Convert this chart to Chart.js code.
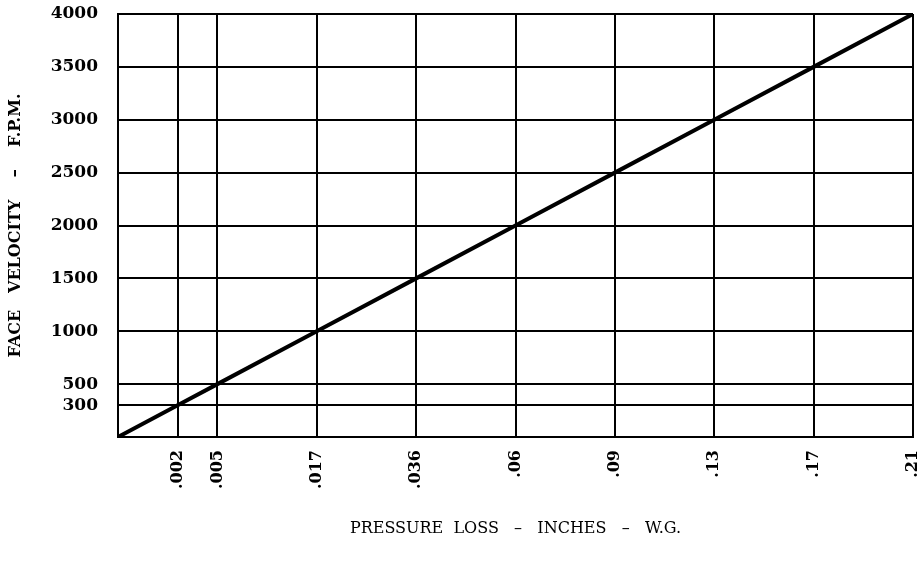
<!DOCTYPE html>
<html>
<head>
<meta charset="utf-8">
<script src="https://cdn.jsdelivr.net/npm/chart.js@4/dist/chart.umd.min.js"></script>
<style>
  html, body { margin: 0; padding: 0; background: #fff; }
  #wrap { width: 922px; height: 567px; }
</style>
</head>
<body>
<div id="wrap"><canvas id="loss"></canvas></div>
<script>
// face velocity (F.P.M.) and the pressure loss read at each velocity line
const velocity = [0, 300, 500, 1000, 1500, 2000, 2500, 3000, 3500, 4000]
const pressureLoss = ['', '.002', '.005', '.017', '.036', '.06', '.09', '.13', '.17', '.21']
const yTicks = [300, 500, 1000, 1500, 2000, 2500, 3000, 3500, 4000]

const serif = '"DejaVu Serif", "Liberation Serif", serif'

const chart = new Chart(
    document.getElementById('loss'),
    {
        type: 'line',
        data: {
            datasets: [{
                data: velocity.map((v) => ({ x: v, y: v })),
                borderColor: '#000',
                borderWidth: 4,
                pointRadius: 0,
                fill: false,
            }]
        },
        options: {
            responsive: true,
            maintainAspectRatio: false,
            animation: false,
            layout: { padding: { left: 0, right: 9, top: 14, bottom: 25 } },
            scales: {
                x: {
                    type: 'linear',
                    min: 0,
                    max: 4000,
                    afterBuildTicks: (s) => { s.ticks = velocity.slice(1).map((v) => ({ value: v })) },
                    afterFit: (s) => {
                        s.height = 105
                        s.paddingLeft = 0
                        s.paddingRight = 0
                    },
                    ticks: {
                        color: '#000',
                        minRotation: 90,
                        maxRotation: 90,
                        padding: 13,
                        font: { family: serif, size: 16, weight: 'bold' },
                        callback: (v) => pressureLoss[velocity.indexOf(v)],
                    },
                    grid: { color: '#000', lineWidth: 2, drawTicks: false },
                    border: { color: '#000', width: 2 },
                    title: {
                        display: true,
                        text: 'PRESSURE  LOSS   \u2013   INCHES   \u2013   W.G.',
                        color: '#000',
                        font: { family: serif, size: 16 },
                        padding: { top: 4, bottom: 4 },
                    },
                },
                y: {
                    min: 0,
                    max: 4000,
                    afterBuildTicks: (s) => { s.ticks = yTicks.map((v) => ({ value: v })) },
                    afterFit: (s) => {
                        s.width = 118
                        s.paddingTop = 0
                        s.paddingBottom = 0
                    },
                    ticks: {
                        color: '#000',
                        padding: 20,
                        font: { family: serif, size: 17, weight: 'bold' },
                        callback: (v) => String(v),
                    },
                    grid: { color: '#000', lineWidth: 2, drawTicks: false },
                    border: { color: '#000', width: 2 },
                    title: {
                        display: true,
                        text: 'FACE   VELOCITY    \u2013    F.P.M.',
                        color: '#000',
                        font: { family: serif, size: 16, weight: 'bold' },
                        padding: { top: 6, bottom: 4 },
                    },
                },
            },
            plugins: {
                legend: { display: false },
                tooltip: { enabled: false },
            },
        }
    }
)
</script>
</body>
</html>
